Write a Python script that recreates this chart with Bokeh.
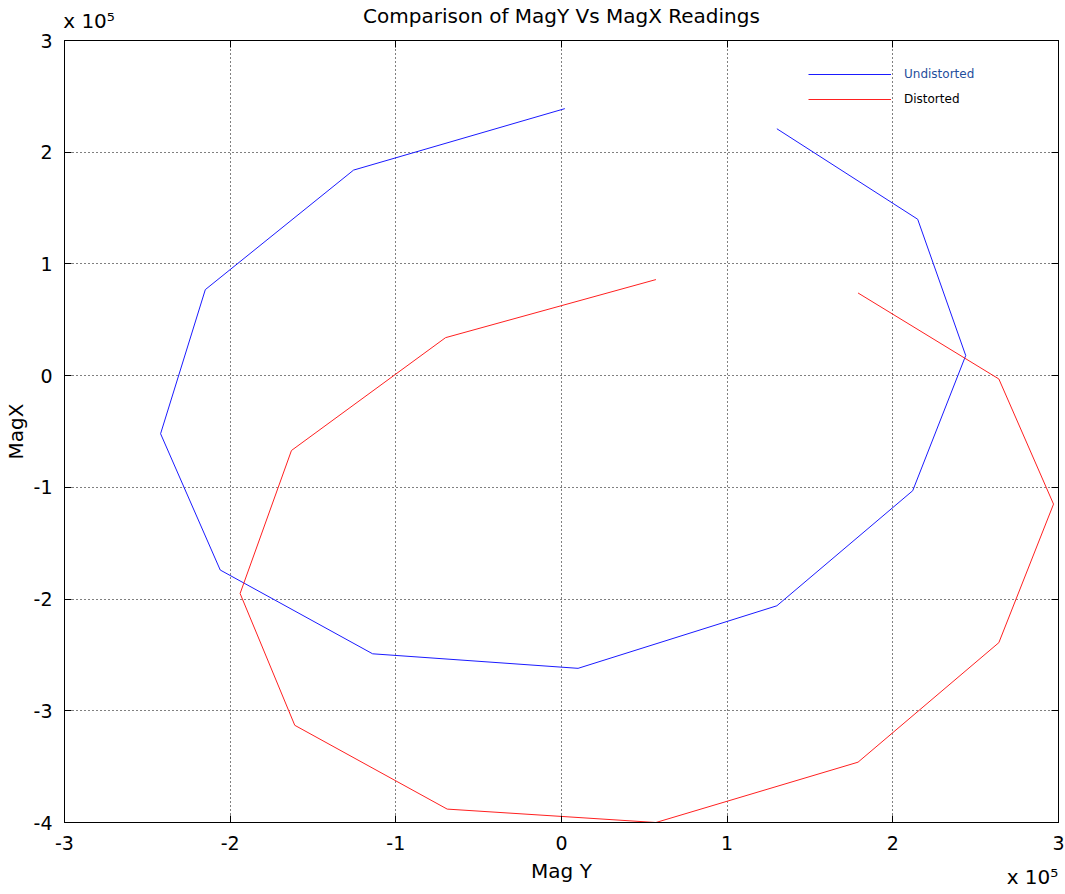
from bokeh.plotting import figure
from bokeh.models import (Range1d, SingleIntervalTicker, FixedTicker, CustomJSTickFormatter,
                          LinearAxis, Legend, LegendItem)
from bokeh.embed import file_html
from bokeh.resources import INLINE

# Undistorted readings (Mag Y, MagX)
undist_y = [2000, -125500, -215000, -242000, -206000, -114000, 10000, 130000, 212000, 244000, 215000, 130000]
undist_x = [239000, 184000, 77000, -52000, -174000, -249000, -262000, -206000, -103000, 18000, 140000, 221000]
# Distorted readings (Mag Y, MagX)
dist_y = [57000, -70000, -163000, -194000, -161000, -69000, 57000, 179000, 264000, 297000, 264000, 179000]
dist_x = [86000, 34000, -67000, -195000, -313000, -388000, -400000, -346000, -239000, -115000, -3000, 74000]

TITLE = "Comparison of MagY Vs MagX Readings"
MULT_LABEL = "x 10\u2075"
FONT = "DejaVu Sans"

p = figure(frame_width=994, frame_height=782, output_backend="svg", toolbar_location=None,
           x_range=Range1d(-300000, 300000), y_range=Range1d(-400000, 300000),
           min_border_left=55, min_border_right=8, min_border_top=32, min_border_bottom=72)
p.background_fill_color = "white"
p.border_fill_color = "white"
p.outline_line_color = "black"
p.outline_line_width = 1

fmt = CustomJSTickFormatter(code="return (tick/1e5).toFixed(0)")
mult_fmt = CustomJSTickFormatter(args=dict(s=MULT_LABEL), code="return s")

for ax in (p.xaxis[0], p.yaxis[0]):
    ax.ticker = SingleIntervalTicker(interval=100000)
    ax.formatter = fmt
    ax.major_tick_in = 7
    ax.major_tick_out = 0
    ax.minor_tick_line_color = None
    ax.axis_line_color = "black"
    ax.major_label_text_font = FONT
    ax.major_label_text_font_size = "19px"
    ax.major_label_text_color = "black"
    ax.axis_label_text_font = FONT
    ax.axis_label_text_font_size = "20px"
    ax.axis_label_text_font_style = "normal"
    ax.axis_label_text_color = "black"

p.xaxis.axis_label = "Mag Y"
p.yaxis.axis_label = "MagX"
p.xaxis.major_label_standoff = 9
p.xaxis.axis_label_standoff = 6
p.yaxis.major_label_standoff = 8
p.yaxis.axis_label_standoff = 3

# inward ticks on the right and top edges of the box
for loc in ("right", "above"):
    ax = LinearAxis(ticker=SingleIntervalTicker(interval=100000), formatter=fmt,
                    major_tick_in=7, major_tick_out=0, minor_tick_line_color=None,
                    major_label_text_font_size="0px", major_label_standoff=0,
                    axis_line_color="black")
    p.add_layout(ax, loc)

# top: exponent multiplier + title (title as the axis label, pulled down to share the row)
top_ax = LinearAxis(ticker=FixedTicker(ticks=[-285200]), formatter=mult_fmt,
                    major_tick_line_color=None, minor_tick_line_color=None, axis_line_color=None,
                    major_label_text_font=FONT, major_label_text_font_size="20px",
                    major_label_text_color="black", major_label_standoff=-2,
                    axis_label=TITLE, axis_label_text_font=FONT, axis_label_text_font_size="20px",
                    axis_label_text_font_style="normal", axis_label_text_color="black",
                    axis_label_standoff=-22)
p.add_layout(top_ax, "above")

# bottom-right exponent multiplier
bot_ax = LinearAxis(ticker=FixedTicker(ticks=[284300]), formatter=mult_fmt,
                    major_tick_line_color=None, minor_tick_line_color=None, axis_line_color=None,
                    major_label_text_font=FONT, major_label_text_font_size="20px",
                    major_label_text_color="black", major_label_standoff=-27)
p.add_layout(bot_ax, "below")

p.grid.ticker = SingleIntervalTicker(interval=100000)
p.grid.grid_line_color = "black"
p.grid.grid_line_dash = "1 3"
p.grid.grid_line_width = 1

r1 = p.line(undist_y, undist_x, line_color="#1a1aff", line_width=1)
r2 = p.line(dist_y, dist_x, line_color="#ff2020", line_width=1)

for r, lab, col, yb in ((r1, "Undistorted", "#1f4e9c", 738), (r2, "Distorted", "black", 713)):
    lg = Legend(items=[LegendItem(label=lab, renderers=[r])], location=(744, yb),
                glyph_width=83, glyph_height=20, label_height=20, label_standoff=13,
                padding=0, margin=0, spacing=0, border_line_color=None,
                background_fill_alpha=0, label_text_font=FONT, label_text_font_size="12px",
                label_text_color=col)
    p.add_layout(lg, "center")

open("out.html", "w").write(file_html(p, INLINE))
